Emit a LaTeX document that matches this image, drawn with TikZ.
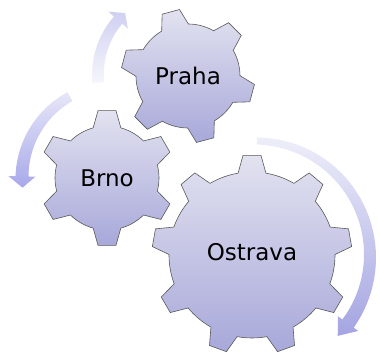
\documentclass[tikz,border=0pt]{standalone}
\usepackage{fontspec}
\setmainfont{DejaVu Sans}
\definecolor{geartop}{HTML}{E2E2F0}
\definecolor{gearbottom}{HTML}{A8A8DA}
\definecolor{arrowonetop}{HTML}{D0D0F2}
\definecolor{arrowonebottom}{HTML}{F6F6FC}
\definecolor{arrowtwotop}{HTML}{E6E6F8}
\definecolor{arrowtwobottom}{HTML}{A8A8EA}
\definecolor{arrowthreetop}{HTML}{EEEEFA}
\definecolor{arrowthreebottom}{HTML}{A4A4E2}
\begin{document}
\begin{tikzpicture}
[x=1pt, y=1pt,
  geardecorate/.style={draw=black!65, line width=0.6pt, top color=geartop, bottom color=gearbottom},
  labeldecorate/.style={font=\fontsize{23}{27}\selectfont, inner sep=0pt}]
\useasboundingbox (0,0) rectangle (380,352);
%% arrows
\foreach \cx/\cy/\rmid/\afrom/\awing/\apoint/\hfrom/\hto/\hhead/\ctop/\cbottom in {
  180/278/82/186/139/132/6/5.5/13/arrowonetop/arrowonebottom,
  115/174/93/119/179/186/5/6.5/13.5/arrowtwotop/arrowtwobottom,
  255/96/115/89/-36/-44/3.5/7/12.5/arrowthreetop/arrowthreebottom}
{
  \shade[top color=\ctop, bottom color=\cbottom, shift={(\cx,\cy)}]
    plot[domain=\afrom:\awing, samples=40, variable=\t]
      (\t:{\rmid+\hfrom+(\hto-\hfrom)*(\t-\afrom)/(\awing-\afrom)})
    -- ({\awing}:{\rmid+\hhead}) -- ({\apoint}:{\rmid}) -- ({\awing}:{\rmid-\hhead})
    -- plot[domain=\awing:\afrom, samples=40, variable=\t]
      (\t:{\rmid-\hfrom-(\hto-\hfrom)*(\t-\afrom)/(\awing-\afrom)})
    -- cycle;
}
%% gears
\foreach \gx/\gy/\teeth/\offset/\tipr/\rootr in {188/276/6/45/67/52,
  107/174/6/30/68/52, 252/97/9/90/100/83}
{
  \pgfmathsetmacro\gearstep{360/\teeth}
  \pgfmathsetmacro\aroot{deg(14/\rootr)}
  \pgfmathsetmacro\atip{deg(9/\tipr)}
  \pgfmathtruncatemacro\lastk{\teeth-1}
  \shade[geardecorate, shift={(\gx,\gy)}] ({\offset-\aroot}:\rootr)
    \foreach \k in {0,...,\lastk} {
      -- ({\offset+\k*\gearstep-\atip}:\tipr) -- ({\offset+\k*\gearstep+\atip}:\tipr)
      -- ({\offset+\k*\gearstep+\aroot}:\rootr)
      arc[start angle={\offset+\k*\gearstep+\aroot},
        end angle={\offset+(\k+1)*\gearstep-\aroot}, radius=\rootr]
    } -- cycle;
}
%% labels
\foreach \nodename/\x/\y/\gearlabel in {praha/188/276/Praha, brno/107/174/Brno,
  ostrava/252/100/Ostrava}
{
  \node (\nodename) at (\x,\y) [labeldecorate] {\gearlabel};
}
\end{tikzpicture}
\end{document}
